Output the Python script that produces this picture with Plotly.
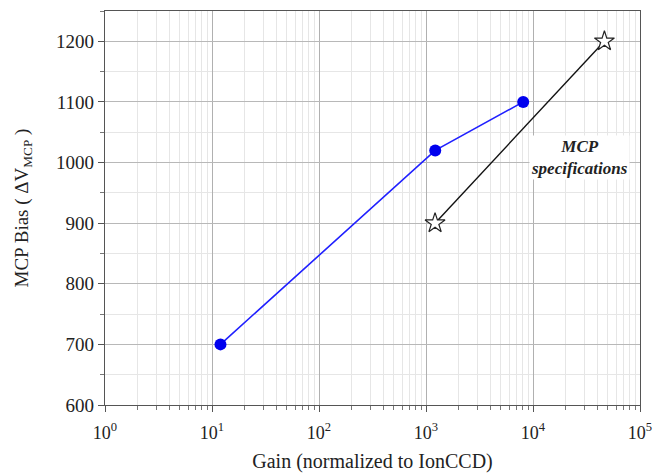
import plotly.graph_objects as go

meas_gain = [12, 1220, 8100]
meas_bias = [700, 1020, 1100]
spec_gain = [1215, 46500]
spec_bias = [900, 1200]

x_tickvals = [1, 10, 100, 1000, 10000, 100000]
x_ticktext = ["10<sup>0</sup>", "10<sup>1</sup>", "10<sup>2</sup>", "10<sup>3</sup>", "10<sup>4</sup>", "10<sup>5</sup>"]
y_tickvals = [600, 700, 800, 900, 1000, 1100, 1200]

FONT = "Liberation Serif"

fig = go.Figure()
fig.add_trace(go.Scatter(x=meas_gain, y=meas_bias, mode="lines+markers",
                         line=dict(color="#2020ff", width=1.6),
                         marker=dict(color="#0000ee", size=12, symbol="circle"),
                         showlegend=False))
fig.add_trace(go.Scatter(x=spec_gain, y=spec_bias, mode="lines+markers",
                         line=dict(color="#111111", width=1.4),
                         marker=dict(color="white", size=15, symbol="star",
                                     line=dict(color="#222222", width=1.2)),
                         showlegend=False))

fig.add_annotation(x=4.43, y=1009, xref="x", yref="y", text="<b><i>MCP<br>specifications</i></b>",
                   showarrow=False, font=dict(family=FONT, size=17, color="#222"),
                   bgcolor="white", align="center")

# page body has an 8px margin, so the figure is shrunk by 8px and margins adjusted
fig.update_layout(
    width=654, height=465,
    margin=dict(l=97, r=22, t=3, b=68),
    paper_bgcolor="white", plot_bgcolor="white",
    font=dict(family=FONT, size=19, color="#222"),
    xaxis=dict(type="log", range=[0, 5], tickvals=x_tickvals, ticktext=x_ticktext,
               tickfont=dict(size=18), ticklabelstandoff=5,
               showline=True, linecolor="#555", linewidth=1.2, mirror=True,
               ticks="outside", ticklen=6, tickcolor="#555",
               showgrid=True, gridcolor="#b0b0b0", gridwidth=1,
               minor=dict(dtick="D1", ticks="outside", ticklen=4, tickcolor="#777",
                          showgrid=True, gridcolor="#e6e6e6", gridwidth=1),
               title=dict(text="Gain (normalized to IonCCD)", font=dict(size=20), standoff=12),
               zeroline=False),
    yaxis=dict(range=[600, 1250], tickvals=y_tickvals,
               tickfont=dict(size=19),
               showline=True, linecolor="#555", linewidth=1.2, mirror=True,
               ticks="outside", ticklen=6, tickcolor="#555",
               showgrid=True, gridcolor="#b8b8b8", gridwidth=1,
               minor=dict(dtick=50, ticks="outside", ticklen=4, tickcolor="#777",
                          showgrid=True, gridcolor="#e6e6e6", gridwidth=1),
               title=dict(text="MCP Bias ( ΔV<sub>MCP</sub> )", font=dict(size=19), standoff=22),
               zeroline=False),
    yaxis2=dict(range=[600, 1250], overlaying="y", side="right", tickvals=y_tickvals,
                showticklabels=False, ticks="inside", ticklen=7, tickcolor="#555",
                showgrid=False, zeroline=False,
                minor=dict(dtick=50, ticks="inside", ticklen=4, tickcolor="#777")),
)

fig.write_html("out.html")
